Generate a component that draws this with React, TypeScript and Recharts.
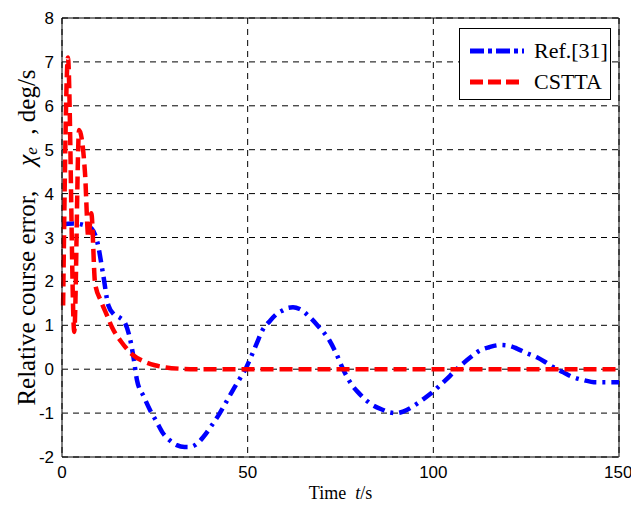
import { CartesianGrid, Legend, Line, LineChart, ReferenceLine, XAxis, YAxis } from 'recharts'

const refTime = [0, 3, 6, 8, 9.5, 11, 12.5, 14, 15.5, 17, 18.3, 19.2, 20.2, 22, 23.7, 25.5, 27.2, 29, 30.9, 33, 34.5, 36, 38, 40, 42.5, 44, 46, 48, 49.7, 51, 52.5, 54, 56, 58, 59.5, 61, 62.2, 64, 66.8, 69, 72, 74, 75.7, 78, 80, 83, 86.5, 88, 90, 92, 95, 97, 99.4, 102, 104.5, 106, 108, 110, 112.6, 115, 118, 120, 122.5, 125, 127.9, 130, 132.2, 135, 137.6, 140, 144, 147, 150]
const refValues = [3.3, 3.32, 3.28, 3.2, 2.9, 2.2, 1.45, 1.25, 1.18, 1.05, 0.7, 0.3, -0.25, -0.62, -0.93, -1.2, -1.46, -1.62, -1.73, -1.77, -1.77, -1.72, -1.55, -1.32, -1.0, -0.78, -0.48, -0.2, 0.05, 0.3, 0.6, 0.89, 1.1, 1.27, 1.34, 1.4, 1.41, 1.37, 1.18, 0.98, 0.66, 0.33, 0, -0.35, -0.55, -0.78, -0.93, -0.98, -1.0, -0.96, -0.82, -0.7, -0.55, -0.35, -0.15, -0.02, 0.13, 0.27, 0.43, 0.5, 0.55, 0.54, 0.47, 0.37, 0.27, 0.17, 0.05, -0.07, -0.18, -0.24, -0.3, -0.3, -0.3]

const csttaTime = [0.3, 1.6, 3.3, 4.6, 6.2, 7.1, 7.9, 8.9, 10.5, 12, 13.5, 16, 19, 22, 25, 28, 32, 36, 150]
const csttaValues = [1.45, 7.1, 0.85, 5.45, 4.46, 3.0, 3.55, 1.96, 1.55, 1.25, 0.95, 0.62, 0.33, 0.18, 0.09, 0.04, 0.01, 0, 0]

const xTicks = [0, 50, 100, 150]
const yTicks = [-2, -1, 0, 1, 2, 3, 4, 5, 6, 7, 8]

const refData = refTime.map((t, i) => ({ t, v: refValues[i] }))
const csttaData = csttaTime.map((t, i) => ({ t, v: csttaValues[i] }))

const serif = '"Liberation Serif", "DejaVu Serif", serif'
const sans = '"Liberation Sans", Arial, sans-serif'

function YLabel(props: any) {
  const vb = props.viewBox || {}
  const cx = 26
  const cy = (vb.y ?? 18) + (vb.height ?? 439) / 2
  return (
    <text
      x={cx}
      y={cy}
      transform={`rotate(-90 ${cx} ${cy})`}
      textAnchor="middle"
      dominantBaseline="central"
      fontFamily={serif}
      fontSize={25}
      fill="#000"
    >
      Relative course error,{'\u00a0\u00a0\u00a0\u00a0'}
      <tspan fontStyle="italic">χ</tspan>
      <tspan fontStyle="italic" fontSize={17} dy={5}>e</tspan>
      <tspan dy={-5}>{'\u00a0\u00a0'}, deg/s</tspan>
    </text>
  )
}

function XLabel(props: any) {
  const vb = props.viewBox || {}
  const cx = (vb.x ?? 62) + (vb.width ?? 557) / 2
  return (
    <text x={cx} y={499} textAnchor="middle" fontFamily={serif} fontSize={18} fill="#000">
      Time{'\u00a0\u00a0'}
      <tspan fontStyle="italic">t</tspan>/s
    </text>
  )
}

function LegendBox() {
  const rows = [
    { name: 'Ref.[31]', color: '#0000ff', dash: '14 4 4 4' },
    { name: 'CSTTA', color: '#ff0000', dash: '13 5' },
  ]
  return (
    <div
      style={{
        width: 152,
        height: 72,
        background: '#fff',
        border: '1px solid #000',
        boxSizing: 'border-box',
        paddingTop: 6,
      }}
    >
      {rows.map((r) => (
        <div key={r.name} style={{ display: 'flex', alignItems: 'center', height: 31 }}>
          <svg width={66} height={10} style={{ marginLeft: 8 }}>
            <line x1={2} y1={5} x2={56} y2={5} stroke={r.color} strokeWidth={5} strokeDasharray={r.dash} />
          </svg>
          <span style={{ fontFamily: serif, fontSize: 22, color: '#000', lineHeight: '31px' }}>{r.name}</span>
        </div>
      ))}
    </div>
  )
}

export default function App() {
  return (
    <div style={{ position: 'absolute', left: 0, top: 0, background: '#fff' }}>
      <LineChart width={631} height={506} margin={{ top: 18, right: 12, bottom: 19, left: 0 }}>
        <CartesianGrid stroke="#000" strokeDasharray="6 5" strokeWidth={1} />
        <XAxis
          dataKey="t"
          type="number"
          domain={[0, 150]}
          ticks={xTicks}
          allowDuplicatedCategory={false}
          height={30}
          tickSize={0}
          tickMargin={9}
          stroke="#000"
          tick={{ fill: '#000', fontFamily: sans, fontSize: 17 }}
          label={{ content: XLabel }}
        />
        <YAxis
          type="number"
          domain={[-2, 8]}
          ticks={yTicks}
          width={62}
          tickSize={0}
          tickMargin={8}
          stroke="#000"
          tick={{ fill: '#000', fontFamily: sans, fontSize: 17 }}
          label={{ content: YLabel }}
        />
        <ReferenceLine y={8} stroke="#000" />
        <ReferenceLine x={150} stroke="#000" />
        <Legend
          layout="vertical"
          align="center"
          verticalAlign="middle"
          content={<LegendBox />}
          wrapperStyle={{ left: 459, top: 28, width: 152 }}
        />
        <Line
          data={refData}
          dataKey="v"
          name="Ref.[31]"
          type="monotone"
          stroke="#0000ff"
          strokeWidth={4.5}
          strokeDasharray="12 6 3 6"
          dot={false}
          isAnimationActive={false}
        />
        <Line
          data={csttaData}
          dataKey="v"
          name="CSTTA"
          type="monotone"
          stroke="#ff0000"
          strokeWidth={4.5}
          strokeDasharray="13 6"
          dot={false}
          isAnimationActive={false}
        />
      </LineChart>
    </div>
  )
}
